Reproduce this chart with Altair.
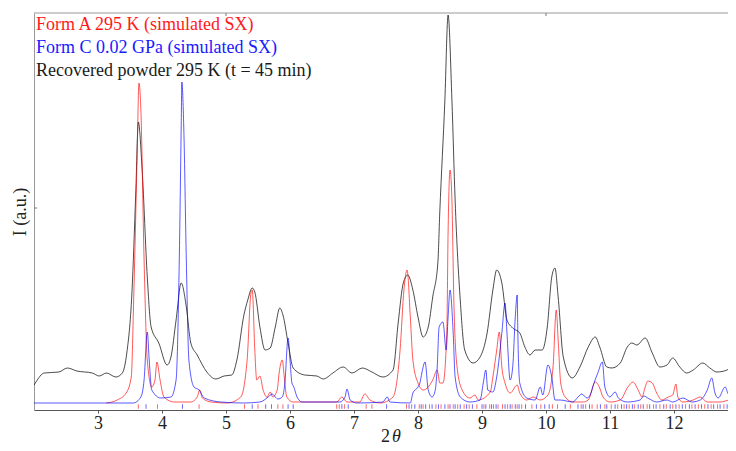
import altair as alt
import pandas as pd

# ---- data (2theta in degrees, intensity in arbitrary units) ----
rec_2theta = [2.00, 2.03, 2.16, 2.39, 2.52, 2.67, 2.91, 3.02, 3.13, 3.28,
              3.38, 3.45, 3.53, 3.59, 3.63, 3.69, 3.77, 3.83, 3.95, 4.08,
              4.14, 4.22, 4.30, 4.38, 4.45, 4.55, 4.70, 4.84, 4.97, 5.09,
              5.17, 5.28, 5.34, 5.41, 5.45, 5.53, 5.61, 5.69, 5.77, 5.84,
              5.89, 5.97, 6.05, 6.23, 6.42, 6.52, 6.67, 6.83, 6.97, 7.13,
              7.28, 7.45, 7.61, 7.69, 7.77, 7.84, 7.92, 8.00, 8.08, 8.16,
              8.23, 8.31, 8.34, 8.42, 8.47, 8.53, 8.58, 8.66, 8.73, 8.86,
              8.97, 9.08, 9.17, 9.23, 9.31, 9.39, 9.48, 9.59, 9.67, 9.75,
              9.83, 9.94, 10.02, 10.09, 10.14, 10.19, 10.27, 10.41, 10.53, 10.66,
              10.77, 10.84, 10.95, 11.03, 11.16, 11.27, 11.34, 11.42, 11.55, 11.66,
              11.78, 11.89, 11.98, 12.09, 12.20, 12.30, 12.45, 12.56, 12.67, 12.83,
              12.92, 12.97]
rec_I = [18, 21, 30, 31, 35, 32, 30, 27, 30, 26,
         30, 50, 110, 210, 281, 233, 126, 76, 60, 38,
         46, 83, 120, 96, 60, 48, 31, 24, 27, 28,
         43, 88, 103, 115, 111, 76, 53, 55, 76, 95,
         88, 60, 35, 28, 27, 24, 30, 36, 30, 35,
         31, 26, 33, 80, 120, 128, 113, 86, 66, 76,
         106, 140, 190, 303, 388, 303, 203, 103, 53, 40,
         46, 70, 113, 133, 120, 83, 75, 70, 56, 48,
         53, 53, 76, 126, 135, 106, 46, 25, 36, 56,
         66, 56, 36, 35, 40, 56, 60, 58, 65, 50,
         36, 38, 45, 36, 30, 33, 40, 35, 31, 33,
         41, 46]

formA_2theta = [3.13, 3.30, 3.44, 3.52, 3.56, 3.61, 3.64, 3.67, 3.72, 3.77,
                3.84, 3.89, 3.92, 3.97, 4.03, 4.19, 4.45, 4.55, 4.59, 4.63,
                4.77, 5.02, 5.23, 5.33, 5.39, 5.41, 5.45, 5.48, 5.53, 5.58,
                5.64, 5.69, 5.73, 5.80, 5.83, 5.88, 5.91, 5.95, 6.05, 6.73,
                6.81, 6.89, 7.09, 7.17, 7.25, 7.41, 7.61, 7.72, 7.78, 7.83,
                7.88, 7.92, 8.00, 8.08, 8.16, 8.23, 8.30, 8.34, 8.39, 8.45,
                8.47, 8.50, 8.53, 8.56, 8.61, 8.69, 8.81, 8.89, 8.94, 9.13,
                9.17, 9.23, 9.27, 9.31, 9.36, 9.44, 9.55, 9.59, 9.70, 9.80,
                9.91, 10.03, 10.11, 10.16, 10.19, 10.23, 10.30, 10.42, 10.58, 10.66,
                10.77, 10.84, 10.89, 11.00, 11.16, 11.28, 11.36, 11.44, 11.50, 11.55,
                11.59, 11.66, 11.73, 11.81, 11.91, 11.98, 12.03, 12.06, 12.14, 12.30,
                12.41, 12.52, 12.72, 12.88, 12.97]
formA_I = [0, 3, 10, 26, 110, 243, 320, 293, 143, 43,
           16, 23, 41, 23, 6, 1, 1, 6, 13, 5,
           1, 0, 6, 43, 110, 113, 53, 23, 27, 13,
           6, 11, 6, 13, 30, 43, 26, 6, 1, 1,
           6, 1, 1, 9, 3, 0, 6, 53, 113, 133,
           86, 43, 20, 13, 16, 23, 33, 20, 20, 70,
           170, 233, 203, 103, 36, 13, 5, 8, 3, 11,
           26, 53, 71, 36, 20, 10, 18, 10, 3, 6,
           3, 8, 36, 93, 63, 20, 6, 1, 1, 3,
           21, 15, 6, 1, 3, 16, 21, 13, 6, 16,
           22, 20, 10, 3, 6, 8, 19, 6, 1, 3,
           6, 1, 1, 3, 1]

formC_2theta = [2.00, 3.55, 3.67, 3.72, 3.77, 3.80, 3.84, 3.98, 4.14, 4.22,
                4.27, 4.30, 4.31, 4.34, 4.38, 4.42, 4.50, 4.58, 4.66, 4.92,
                5.28, 5.53, 5.66, 5.72, 5.77, 5.81, 5.88, 5.92, 5.97, 6.00,
                6.03, 6.06, 6.11, 6.19, 6.78, 6.86, 6.89, 6.94, 7.05, 7.45,
                7.52, 7.56, 7.88, 7.92, 8.00, 8.03, 8.06, 8.11, 8.16, 8.22,
                8.27, 8.30, 8.33, 8.39, 8.44, 8.47, 8.50, 8.55, 8.58, 8.66,
                8.81, 8.97, 9.02, 9.06, 9.09, 9.17, 9.23, 9.31, 9.36, 9.39,
                9.44, 9.48, 9.52, 9.55, 9.56, 9.59, 9.70, 9.83, 9.91, 9.95,
                10.03, 10.09, 10.14, 10.22, 10.42, 10.50, 10.56, 10.64, 10.69, 10.75,
                10.81, 10.88, 10.92, 11.00, 11.08, 11.13, 11.27, 11.47, 11.53, 11.59,
                11.73, 11.89, 11.98, 12.14, 12.28, 12.41, 12.52, 12.59, 12.64, 12.69,
                12.80, 12.84, 12.92, 12.97]
formC_I = [0, 0, 6, 23, 71, 43, 13, 5, 6, 23,
           143, 276, 321, 276, 143, 43, 16, 13, 5, 1,
           0, 1, 6, 9, 6, 4, 6, 20, 65, 43,
           20, 16, 6, 1, 1, 6, 14, 3, 0, 1,
           6, 1, 0, 10, 16, 20, 30, 41, 13, 6,
           13, 36, 76, 81, 53, 86, 113, 70, 26, 6,
           1, 3, 20, 33, 13, 11, 26, 70, 100, 70,
           23, 36, 86, 108, 70, 20, 5, 3, 16, 8,
           38, 26, 3, 3, 1, 6, 9, 5, 8, 20,
           30, 41, 16, 6, 11, 5, 1, 3, 7, 5,
           1, 3, 1, 5, 1, 3, 13, 25, 10, 5,
           16, 10, 3, 6]

# reflection positions (tick markers under the patterns)
formA_hkl = [3.63, 3.93, 4.58, 5.29, 5.50, 5.81, 5.89, 6.73, 6.77, 6.85,
             7.19, 7.28, 7.82, 7.90, 8.02, 8.08, 8.18, 8.28, 8.36, 8.47,
             8.55, 8.62, 8.72, 8.80, 8.92, 9.03, 9.12, 9.18, 9.25, 9.32,
             9.40, 9.47, 9.55, 9.62, 9.78, 9.92, 10.10, 10.18, 10.38, 10.55,
             10.62, 10.72, 10.80, 10.92, 11.02, 11.12, 11.22, 11.30, 11.38, 11.48,
             11.58, 11.68, 11.78, 11.88, 11.98, 12.08, 12.18, 12.28, 12.38, 12.48,
             12.58, 12.68, 12.78, 12.88, 12.95]
formC_hkl = [3.75, 4.32, 5.41, 5.62, 5.71, 5.97, 6.05, 6.81, 6.91, 7.51,
             7.86, 7.95, 8.05, 8.12, 8.22, 8.32, 8.42, 8.50, 8.58, 8.66,
             8.76, 8.85, 9.00, 9.06, 9.15, 9.22, 9.36, 9.44, 9.52, 9.58,
             9.68, 9.85, 9.98, 10.05, 10.30, 10.50, 10.58, 10.68, 10.85, 10.95,
             11.08, 11.18, 11.26, 11.35, 11.44, 11.52, 11.62, 11.72, 11.84, 11.94,
             12.03, 12.13, 12.24, 12.33, 12.43, 12.53, 12.62, 12.72, 12.83, 12.92]

x_ticks = [3, 4, 5, 6, 7, 8, 9, 10, 11, 12]
legend_labels = ["Form A 295 K (simulated SX)",
                 "Form C 0.02 GPa (simulated SX)",
                 "Recovered powder 295 K (t = 45 min)"]
legend_colors = ["#ff1a1a", "#1a1aff", "#1a1a1a"]

FONT = "Liberation Serif"
W, H = 694, 397
X_MAX = 2 + W / 64.0   # 64 px per degree, as in the reference

xs = alt.Scale(domain=[2, X_MAX], nice=False, zero=False)
ys = alt.Scale(domain=[-7, 390], nice=False, zero=False)

rec_df = pd.DataFrame({"t": rec_2theta, "I": rec_I})
a_df = pd.DataFrame({"t": formA_2theta, "I": formA_I})
c_df = pd.DataFrame({"t": formC_2theta, "I": formC_I})
hkl_df = pd.DataFrame({"t": formA_hkl + formC_hkl,
                       "form": ["A"] * len(formA_hkl) + ["C"] * len(formC_hkl)})

x_axis = alt.Axis(values=x_ticks, format="d", labelFont=FONT, labelFontSize=18,
                  labelColor="#222", tickSize=3, tickColor="#555", domainColor="#555",
                  grid=False, title=None, labelPadding=1)
y_axis = alt.Axis(labels=False, ticks=False, grid=False, domainColor="#999",
                  title="I (a.u.)", titleFont=FONT, titleFontSize=18,
                  titleFontWeight="normal", titleColor="#222", titlePadding=5)

black = alt.Chart(rec_df).mark_line(color="#000000", strokeWidth=1, opacity=0.7,
                                    interpolate="monotone", clip=True).encode(
    x=alt.X("t:Q", scale=xs, axis=x_axis),
    y=alt.Y("I:Q", scale=ys, axis=y_axis),
)
red = alt.Chart(a_df).mark_line(color="#ff0000", strokeWidth=1, opacity=0.65,
                                interpolate="monotone", clip=True).encode(
    x=alt.X("t:Q", scale=xs), y=alt.Y("I:Q", scale=ys))
blue = alt.Chart(c_df).mark_line(color="#0000ff", strokeWidth=1, opacity=0.65,
                                 interpolate="monotone", clip=True).encode(
    x=alt.X("t:Q", scale=xs), y=alt.Y("I:Q", scale=ys))

hkl = alt.Chart(hkl_df).mark_rule(strokeWidth=1, opacity=0.6, clip=True).encode(
    x=alt.X("t:Q", scale=xs),
    y=alt.datum(-1.3),
    y2=alt.datum(-5.8),
    color=alt.Color("form:N", scale=alt.Scale(domain=["A", "C"], range=["#ff0000", "#0000ff"]),
                    legend=None),
)

# frame details: top border, its ticks and the inner tick on the left axis
top_border = alt.Chart(pd.DataFrame({"a": [0]})).mark_rule(color="#999", strokeWidth=1).encode(
    x=alt.value(0), x2=alt.value(W), y=alt.value(0))
top_ticks = alt.Chart(pd.DataFrame({"t": [5, 10]})).mark_rule(color="#777", strokeWidth=1).encode(
    x=alt.X("t:Q", scale=xs), y=alt.value(0), y2=alt.value(3))
left_tick = alt.Chart(pd.DataFrame({"I": [195]})).mark_rule(color="#777", strokeWidth=1).encode(
    y=alt.Y("I:Q", scale=ys), x=alt.value(0), x2=alt.value(3))

legend_layers = []
for i, (lab, col) in enumerate(zip(legend_labels, legend_colors)):
    legend_layers.append(
        alt.Chart(pd.DataFrame({"label": [lab]})).mark_text(
            align="left", baseline="alphabetic", font=FONT, fontSize=18, color=col
        ).encode(text="label:N", x=alt.value(2), y=alt.value(17 + 23 * i))
    )

title_two = alt.Chart(pd.DataFrame({"s": ["2"]})).mark_text(
    align="left", baseline="alphabetic", font=FONT, fontSize=18, color="#222"
).encode(text="s:N", x=alt.value(347), y=alt.value(429))
title_theta = alt.Chart(pd.DataFrame({"s": ["θ"]})).mark_text(
    align="left", baseline="alphabetic", font=FONT, fontSize=18, fontStyle="italic", color="#222"
).encode(text="s:N", x=alt.value(358), y=alt.value(429))

chart = alt.layer(
    black, red, blue, hkl, top_border, top_ticks, left_tick, *legend_layers, title_two, title_theta
).properties(
    width=W, height=H,
    autosize=alt.AutoSizeParams(type="none"),
    padding={"left": 26, "top": 5, "right": 0, "bottom": 40},
).configure_view(stroke=None)

chart.save("out.html", embed_options={"renderer": "svg", "actions": False})
